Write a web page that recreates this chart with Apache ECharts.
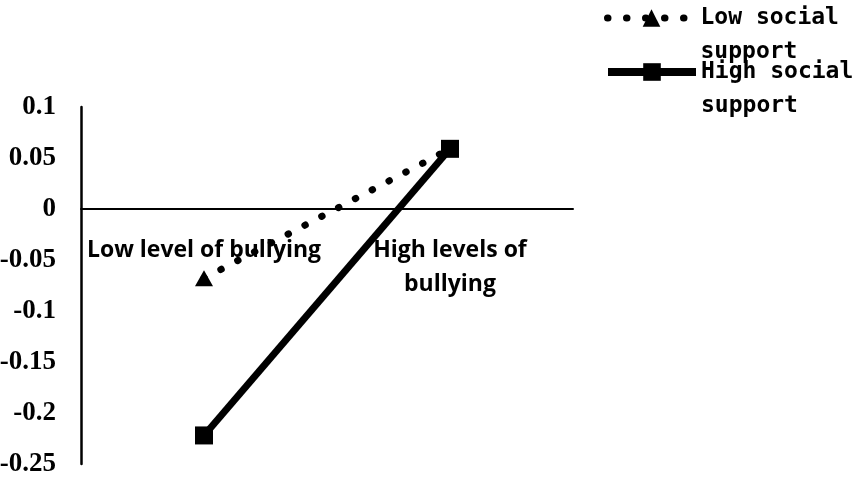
<!DOCTYPE html>
<html>
<head>
<meta charset="utf-8">
<script src="https://cdn.jsdelivr.net/npm/echarts@6/dist/echarts.min.js"></script>
<style>
  html, body { margin: 0; padding: 0; background: #fff; }
  #main { width: 854px; height: 483px; }
</style>
</head>
<body>
<div id="main"></div>
<script>
// categories on the x axis
var categories = ['Low level of bullying', 'High levels of\nbullying'];
// series values
var lowSupport = [-0.068, 0.059];
var highSupport = [-0.222, 0.059];
var seriesNames = ['Low social support', 'High social support'];

var chart = echarts.init(document.getElementById('main'), null, { renderer: 'canvas' });

// one legend per series, leading blank line keeps the icon on the first text line
function legendFor(name, top, lineWidth) {
  return {
    data: [name],
    left: 604,
    top: top,
    orient: 'vertical',
    padding: 0,
    itemWidth: 88,
    itemHeight: 22,
    selectedMode: false,
    lineStyle: { width: lineWidth },
    formatter: function (n) {
      return '\n' + n.replace(' support', '\nsupport');
    },
    textStyle: {
      fontFamily: 'DejaVu Sans Mono',
      fontWeight: 'bold',
      fontSize: 23,
      lineHeight: 34,
      color: '#000'
    }
  };
}

var option = {
  backgroundColor: '#fff',
  animation: false,
  legend: [legendFor(seriesNames[0], -33, 7), legendFor(seriesNames[1], 21, 8)],
  grid: {
    left: 81,
    right: 281,
    top: 107,
    bottom: 19,
    containLabel: false,
    outerBoundsMode: 'none'
  },
  xAxis: [
    {
      // the zero line
      type: 'category',
      data: categories,
      boundaryGap: true,
      axisTick: { show: false },
      axisLabel: { show: false },
      axisLine: { onZero: true, lineStyle: { color: '#000', width: 2 } }
    },
    {
      // labels only, lifted up to sit under the zero line
      type: 'category',
      data: categories,
      position: 'bottom',
      offset: -255,
      boundaryGap: true,
      axisTick: { show: false },
      axisLine: { show: false },
      axisLabel: {
        margin: 24,
        color: '#000',
        fontFamily: 'Open Sans',
        fontWeight: 'bold',
        fontSize: 23,
        lineHeight: 34,
        interval: 0
      }
    }
  ],
  yAxis: {
    type: 'value',
    min: -0.25,
    max: 0.1,
    interval: 0.05,
    splitLine: { show: false },
    axisTick: { show: false },
    axisLine: { show: true, onZero: false, lineStyle: { color: '#000', width: 2.5 } },
    axisLabel: {
      margin: 25,
      color: '#000',
      fontFamily: 'Liberation Serif',
      fontWeight: 'bold',
      fontSize: 27,
      formatter: function (v) {
        return String(Math.round(v * 100) / 100);
      }
    }
  },
  series: [
    {
      name: seriesNames[0],
      type: 'line',
      data: lowSupport,
      symbol: 'triangle',
      symbolSize: [18, 16],
      itemStyle: { color: '#000' },
      lineStyle: { color: '#000', width: 7, type: [0.5, 18.5], cap: 'round' },
      z: 2
    },
    {
      name: seriesNames[1],
      type: 'line',
      data: highSupport,
      symbol: 'rect',
      symbolSize: 18,
      itemStyle: { color: '#000' },
      lineStyle: { color: '#000', width: 7 },
      z: 3
    }
  ]
};

chart.setOption(option);
</script>
</body>
</html>
